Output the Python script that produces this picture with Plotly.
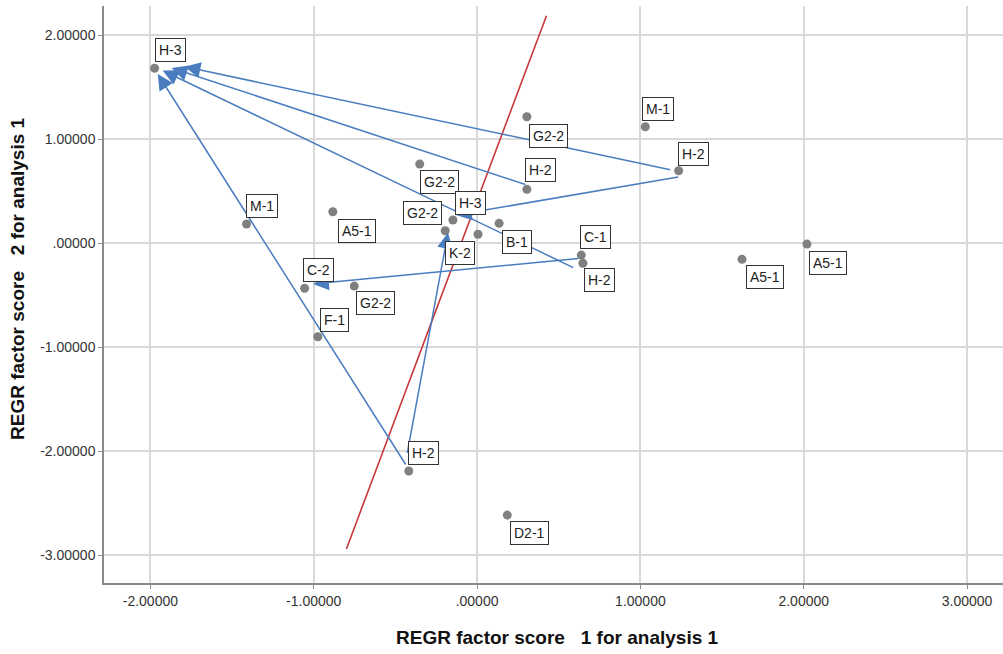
import plotly.graph_objects as go

# ---- data ----
pt_x = [-1.974, -1.411, -0.883, -0.351, -0.195, -0.148, 0.006, 0.135, 0.638, 0.648,
        -1.056, -0.752, -0.975, -0.418, 0.185, 0.305, 0.305, 1.030, 1.234, 1.622, 2.020]
pt_y = [1.683, 0.186, 0.304, 0.762, 0.121, 0.224, 0.087, 0.192, -0.113, -0.192,
        -0.433, -0.411, -0.898, -2.189, -2.613, 1.217, 0.519, 1.121, 0.698, -0.154, -0.007]
pt_label = ["H-3", "M-1", "A5-1", "G2-2", "G2-2", "H-3", "K-2", "B-1", "C-1", "H-2",
            "C-2", "G2-2", "F-1", "H-2", "D2-1", "G2-2", "H-2", "M-1", "H-2", "A5-1", "A5-1"]

# arrows: start (tail) -> end (head), in data units
arrow_x0 = [1.192, 0.305, 0.598, -0.431, 1.241, 0.629, -0.429]
arrow_y0 = [0.705, 0.561, -0.240, -2.141, 0.640, -0.144, -2.030]
arrow_x1 = [-1.790, -1.870, -1.925, -1.955, -0.130, -1.004, -0.178]
arrow_y1 = [1.698, 1.686, 1.662, 1.628, 0.272, -0.391, 0.102]

# red reference line
red_x = [-0.800, 0.425]
red_y = [-2.939, 2.188]

tick_vals_x = [-2, -1, 0, 1, 2, 3]
tick_text_x = ["-2.00000", "-1.00000", ".00000", "1.00000", "2.00000", "3.00000"]
tick_vals_y = [-3, -2, -1, 0, 1, 2]
tick_text_y = ["-3.00000", "-2.00000", "-1.00000", ".00000", "1.00000", "2.00000"]

# ---- styles (label box offsets in screen pixels: dx right, dy down) ----
label_offsets = [(16, -18), (15, -18), (24, 19), (20, 18), (-23, -18), (18, -17), (-18, 19),
                 (18, 19), (14, -18), (17, 17), (14, -18), (21, 17), (17, -17), (15, -18),
                 (22, 18), (22, 19), (14, -19), (13, -18), (15, -17), (23, 18), (21, 19)]

BLUE = "#4a7dbf"
RED = "#c8373a"
GRID = "#d9d9d9"
AXIS = "#8a8a8a"
FONT = "Arial, Liberation Sans, sans-serif"

fig = go.Figure()

fig.add_trace(go.Scatter(x=red_x, y=red_y, mode="lines",
                         line=dict(color=RED, width=1.6), hoverinfo="skip", showlegend=False))

annotations = []
for x0, y0, x1, y1 in zip(arrow_x0, arrow_y0, arrow_x1, arrow_y1):
    annotations.append(dict(x=x1, y=y1, ax=x0, ay=y0, xref="x", yref="y",
                            axref="x", ayref="y", text="", showarrow=True,
                            arrowhead=2, arrowsize=2.1, arrowwidth=1.5,
                            arrowcolor=BLUE, standoff=0, startstandoff=0))

fig.add_trace(go.Scatter(x=pt_x, y=pt_y, mode="markers",
                         marker=dict(color="#808080", size=9), hoverinfo="skip",
                         showlegend=False))

for x, y, lab, (dx, dy) in zip(pt_x, pt_y, pt_label, label_offsets):
    annotations.append(dict(x=x, y=y, xref="x", yref="y", text=lab, showarrow=False,
                            xshift=dx, yshift=-dy, bgcolor="white", bordercolor="#333333",
                            borderwidth=1, borderpad=3,
                            font=dict(family=FONT, size=14, color="#222222")))

# axis titles
annotations.append(dict(x=0.505, y=-0.094, xref="paper", yref="paper",
                        text="<b>REGR factor score\u00a0\u00a0 1 for analysis 1</b>",
                        showarrow=False, xanchor="center", yanchor="middle",
                        font=dict(family=FONT, size=19, color="#111111")))
annotations.append(dict(x=-0.0957, y=0.5286, xref="paper", yref="paper",
                        text="<b>REGR factor score\u00a0\u00a0 2 for analysis 1</b>",
                        showarrow=False, xanchor="center", yanchor="middle", textangle=-90,
                        font=dict(family=FONT, size=19, color="#111111")))

fig.update_layout(
    width=1003, height=654,
    margin=dict(l=104, r=0, t=6, b=71),
    paper_bgcolor="white", plot_bgcolor="white",
    annotations=annotations,
    xaxis=dict(range=[-2.284, 3.22], tickvals=tick_vals_x, ticktext=tick_text_x,
               showgrid=True, gridcolor=GRID, gridwidth=1.5, zeroline=False,
               showline=True, linecolor=AXIS, linewidth=1.5,
               ticks="outside", ticklen=4, tickcolor=AXIS,
               tickfont=dict(family=FONT, size=14, color="#333333")),
    yaxis=dict(range=[-3.266, 2.282], tickvals=tick_vals_y, ticktext=tick_text_y,
               showgrid=True, gridcolor=GRID, gridwidth=1.5, zeroline=False,
               showline=True, linecolor=AXIS, linewidth=1.5,
               ticks="outside", ticklen=4, tickcolor=AXIS,
               tickfont=dict(family=FONT, size=14, color="#333333")),
)

fig.write_html("out.html")
